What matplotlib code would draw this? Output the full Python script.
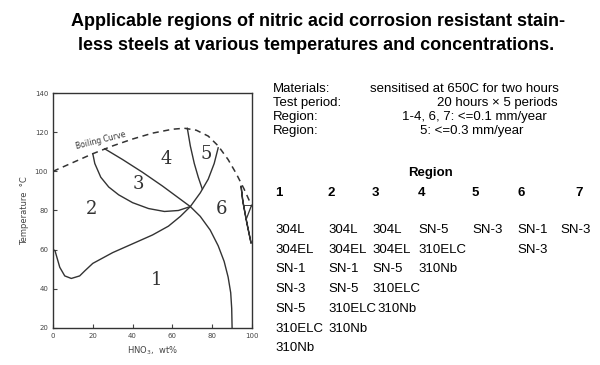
import matplotlib.pyplot as plt

# boiling curve and region boundaries (HNO3 wt%, temperature C)
boil_x = [0, 10, 20, 30, 40, 50, 60, 66, 72, 78, 83, 88, 92, 96, 100]
boil_y = [100, 104.5, 109, 113, 116.5, 119.5, 121.5, 122, 121, 118, 113, 106, 99, 91, 82]

b12_x = [0, 1, 1.7, 3.4, 5.9, 9.2, 13.4, 16, 20, 30, 40, 50, 58, 64, 69, 74, 78, 81, 83]
b12_y = [60, 59.5, 57, 51, 46.6, 45.3, 46.6, 49.2, 53, 58.5, 63, 67.5, 72, 77, 82, 89, 96, 104, 112]

b23_x = [20, 21, 24, 28, 33, 40, 48, 56, 63, 69]
b23_y = [109, 104, 97, 92, 88, 84, 81, 79.5, 80, 82]

b34_x = [26, 35, 45, 55, 63, 69, 74, 79, 83, 86, 88, 89.3, 89.8, 90]
b34_y = [111.5, 106, 99.5, 92.5, 86.5, 82, 77, 70, 62, 54, 46, 38, 30, 20]

b45_x = [67.5, 69, 71, 73, 75]
b45_y = [122, 113, 104, 97, 91]

b7_x = [99.5, 97, 95.2, 94.5, 95.5, 97.5, 99.5]
b7_y = [63.5, 76, 86, 92.5, 84, 73, 63.5]

region_labels = ['1', '2', '3', '4', '5', '6', '7']
label_x = [52, 19.3, 42.9, 57.1, 77, 84.9, 97.8]
label_y = [44.7, 80.6, 93.4, 106.5, 108.7, 80.6, 78]

info_keys = ['Materials:', 'Test period:', 'Region:', 'Region:']
info_vals = ['sensitised at 650C for two hours', '20 hours \u00d7 5 periods',
             '1-4, 6, 7: <=0.1 mm/year', '5: <=0.3 mm/year']

steels = [
    ['304L', '304EL', 'SN-1', 'SN-3', 'SN-5', '310ELC', '310Nb'],
    ['304L', '304EL', 'SN-1', 'SN-5', '310ELC', '310Nb'],
    ['304L', '304EL', 'SN-5', '310ELC', '310Nb'],
    ['SN-5', '310ELC', '310Nb'],
    ['SN-3'],
    ['SN-1', 'SN-3'],
    ['SN-3'],
]

fig = plt.figure(figsize=(6, 3.65), dpi=100)
W, H = 600, 365

def fx(px):
    return px / W

def fy(py):
    return 1 - py / H

fig.text(fx(318), fy(21), 'Applicable regions of nitric acid corrosion resistant stain-',
         ha='center', va='center', fontsize=13, fontweight='bold', family='Liberation Sans')
fig.text(fx(316), fy(45), 'less steels at various temperatures and concentrations.',
         ha='center', va='center', fontsize=13, fontweight='bold', family='Liberation Sans')

ax = fig.add_axes([fx(53), fy(328), fx(252 - 53), (328 - 93) / H])
lc = '#333333'
ax.plot(boil_x, boil_y, color=lc, lw=1.1, ls=(0, (4, 3)))
for xs, ys in [(b12_x, b12_y), (b23_x, b23_y), (b34_x, b34_y), (b45_x, b45_y), (b7_x, b7_y)]:
    ax.plot(xs, ys, color=lc, lw=1.0)
for t, x, y in zip(region_labels, label_x, label_y):
    ax.text(x, y, t, ha='center', va='center', fontsize=13, color='#333333', family='DejaVu Serif')
ax.text(24, 116, 'Boiling Curve', fontsize=5.5, rotation=14, ha='center', va='center', color=lc)

ax.set_xlim(0, 100)
ax.set_ylim(20, 140)
ax.set_xticks([0, 20, 40, 60, 80, 100])
ax.set_yticks([20, 40, 60, 80, 100, 120, 140])
ax.tick_params(direction='in', labelsize=5, length=3, width=0.8, colors='#444444')
for s in ax.spines.values():
    s.set_color(lc)
    s.set_linewidth(1.0)
ax.set_ylabel('Temperature  \u00b0C', fontsize=6, color='#444444')
ax.set_xlabel('HNO$_3$,  wt%', fontsize=6, color='#444444')

font = ['Liberation Sans', 'DejaVu Sans']
val_x = [370, 437, 402, 420]
row_y = [89, 103, 117, 131]
for k, v, vx, ry in zip(info_keys, info_vals, val_x, row_y):
    fig.text(fx(273), fy(ry), k, fontsize=9.5, va='center', family=font)
    fig.text(fx(vx), fy(ry), v, fontsize=9.5, va='center', family=font)

fig.text(fx(408), fy(173), 'Region', fontsize=9.5, fontweight='bold', va='center', family=font)
col_x = [275, 328, 372, 418, 472, 517, 560]
head_x = [275, 328, 372, 418, 472, 518, 575]
for i, (cx, hx) in enumerate(zip(col_x, head_x)):
    fig.text(fx(hx), fy(193), str(i + 1), fontsize=9.5, fontweight='bold', va='center', family=font)
    for j, s in enumerate(steels[i]):
        x = cx
        if i == 2 and s == '310Nb':
            x = 377
        fig.text(fx(x), fy(230 + j * 19.7), s, fontsize=9.5, va='center', family=font)

fig.savefig('out.png', dpi=100)
